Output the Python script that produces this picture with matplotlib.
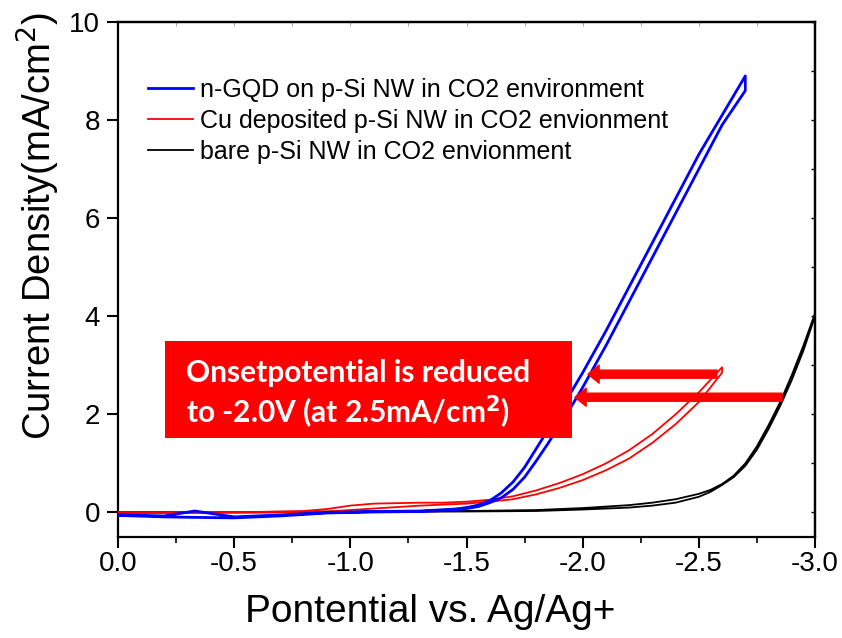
import matplotlib
matplotlib.use("Agg")
import matplotlib.pyplot as plt
from matplotlib.patches import Rectangle
from matplotlib.ticker import MultipleLocator

plt.rcParams['font.family'] = ['Liberation Sans', 'DejaVu Sans']
plt.rcParams['axes.unicode_minus'] = False

# Linear sweep data: each sample has two branches (forward / return scan)
v_blue = [0.0, -0.2, -0.33, -0.5, -0.7, -0.9, -1.1, -1.3, -1.45, -1.5, -1.55, -1.6,
          -1.65, -1.7, -1.75, -1.8, -1.85, -1.9, -1.95, -2.0, -2.1, -2.2, -2.3,
          -2.4, -2.5, -2.6, -2.7]
j_blue_fwd = [-0.05, -0.07, 0.03, -0.09, -0.05, 0.0, 0.02, 0.03, 0.07, 0.1, 0.15, 0.24,
              0.4, 0.62, 0.92, 1.3, 1.68, 2.06, 2.45, 2.85, 3.7, 4.6, 5.5,
              6.4, 7.3, 8.1, 8.9]
j_blue_rev = [-0.06, -0.09, -0.1, -0.11, -0.07, -0.01, 0.01, 0.02, 0.05, 0.08, 0.12, 0.2,
              0.3, 0.47, 0.72, 1.05, 1.4, 1.78, 2.15, 2.55, 3.4, 4.3, 5.2,
              6.1, 7.0, 7.9, 8.6]

v_red = [0.0, -0.3, -0.6, -0.8, -0.9, -1.0, -1.1, -1.2, -1.3, -1.4, -1.5, -1.6,
         -1.7, -1.8, -1.9, -2.0, -2.1, -2.2, -2.3, -2.4, -2.5, -2.6]
j_red_fwd = [0.0, 0.0, 0.01, 0.03, 0.07, 0.14, 0.18, 0.19, 0.2, 0.2, 0.22, 0.26,
             0.33, 0.45, 0.6, 0.78, 1.0, 1.27, 1.6, 2.0, 2.45, 2.96]
j_red_rev = [0.0, 0.0, 0.0, 0.01, 0.02, 0.05, 0.08, 0.11, 0.14, 0.16, 0.18, 0.22,
             0.27, 0.37, 0.5, 0.66, 0.86, 1.1, 1.42, 1.8, 2.25, 2.85]

v_black = [0.0, -0.5, -1.0, -1.5, -1.8, -2.0, -2.2, -2.3, -2.4, -2.5, -2.55, -2.6,
           -2.65, -2.7, -2.75, -2.8, -2.85, -2.9, -2.95, -3.0]
j_black_fwd = [0.0, 0.01, 0.02, 0.03, 0.05, 0.09, 0.15, 0.2, 0.27, 0.38, 0.46, 0.58,
               0.75, 1.0, 1.35, 1.78, 2.25, 2.8, 3.4, 4.06]
j_black_rev = [0.0, 0.0, 0.01, 0.02, 0.03, 0.06, 0.1, 0.14, 0.2, 0.32, 0.42, 0.56,
               0.72, 0.95, 1.28, 1.7, 2.17, 2.7, 3.3, 4.0]

labels = ["n-GQD on p-Si NW in CO2 environment",
          "Cu deposited p-Si NW in CO2 envionment",
          "bare p-Si NW in CO2 envionment"]

x_ticks = [0.0, -0.5, -1.0, -1.5, -2.0, -2.5, -3.0]
x_ticklabels = ["0.0", "-0.5", "-1.0", "-1.5", "-2.0", "-2.5", "-3.0"]
y_ticks = [0, 2, 4, 6, 8, 10]
y_ticklabels = ["0", "2", "4", "6", "8", "10"]

# Onset-potential arrows: (tail potential, head potential, current density)
arrows = [(-2.578, -2.023, 2.82), (-2.858, -1.967, 2.35)]


def loop(v, fwd, rev):
    return v + v[::-1], fwd + rev[::-1]


fig = plt.figure(figsize=(8.42, 6.38), dpi=100)
ax = fig.add_axes([118 / 842, 1 - 537 / 638, 697 / 842, 515 / 638])

xb, yb = loop(v_blue, j_blue_fwd, j_blue_rev)
xr, yr = loop(v_red, j_red_fwd, j_red_rev)
xk, yk = loop(v_black, j_black_fwd, j_black_rev)
ax.plot(xk, yk, color='black', lw=1.3, label=labels[2], zorder=2)
ax.plot(xr, yr, color='red', lw=1.3, label=labels[1], zorder=3)
ax.plot(xb, yb, color='blue', lw=2.0, label=labels[0], zorder=4)

ax.set_xlim(0, -3.0)
ax.set_ylim(-0.5, 10)
ax.set_xticks(x_ticks)
ax.set_xticklabels(x_ticklabels)
ax.set_yticks(y_ticks)
ax.set_yticklabels(y_ticklabels)
ax.xaxis.set_minor_locator(MultipleLocator(0.25))
ax.tick_params(axis='both', which='major', direction='out', length=8, width=1.5,
               labelsize=20)
ax.tick_params(axis='x', which='major', pad=2)
ax.tick_params(axis='y', which='major', pad=5)
ax.tick_params(axis='x', which='minor', direction='out', length=4, width=1.2)
for s in ax.spines.values():
    s.set_linewidth(1.6)

top = ax.secondary_xaxis('top')
top.set_xticks([0.25 * i * -1 for i in range(13)])
top.tick_params(direction='in', length=3, width=0.6, labeltop=False, colors='#999999')
top.spines['top'].set_linewidth(1.6)
right = ax.secondary_yaxis('right')
right.set_yticks(list(range(0, 11)))
right.tick_params(direction='in', length=3, width=1.0, labelright=False)
right.spines['right'].set_linewidth(1.6)

ax.set_xlabel("Pontential vs. Ag/Ag+", fontsize=28)
ax.xaxis.set_label_coords(0.448, -0.11)
ax.set_ylabel("Current Density(mA/cm$^2$)", fontsize=27.5)
ax.yaxis.set_label_coords(-0.08, 0.605)

h, l = ax.get_legend_handles_labels()
ax.legend(h[::-1], l[::-1], loc='upper left', bbox_to_anchor=(0.043, 0.891),
          frameon=False, fontsize=18, handlelength=1.8, handletextpad=0.3,
          labelspacing=0.27, borderaxespad=0, borderpad=0)

# Annotation box with onset-potential note
ax.add_patch(Rectangle((0.0674, 0.1922), 0.584, 0.1883, transform=ax.transAxes,
                       facecolor='red', edgecolor='none', zorder=5))
ax.text(0.0976, 0.318, "Onsetpotential is reduced", transform=ax.transAxes,
        color='white', fontsize=21.5, fontweight='bold', family='Lato',
        va='center', ha='left', zorder=6)
ax.text(0.0976, 0.241, "to -2.0V (at 2.5mA/cm$^{\\mathbf{2}}$)", transform=ax.transAxes,
        color='white', fontsize=21.5, fontweight='bold', family='Lato',
        va='center', ha='left', zorder=6)

for tail, head, j in arrows:
    ax.annotate('', xy=(head, j), xytext=(tail, j),
                arrowprops=dict(width=5.8, headwidth=13, headlength=8,
                                color='red', shrink=0), zorder=6)

fig.savefig("out.png", dpi=100)
